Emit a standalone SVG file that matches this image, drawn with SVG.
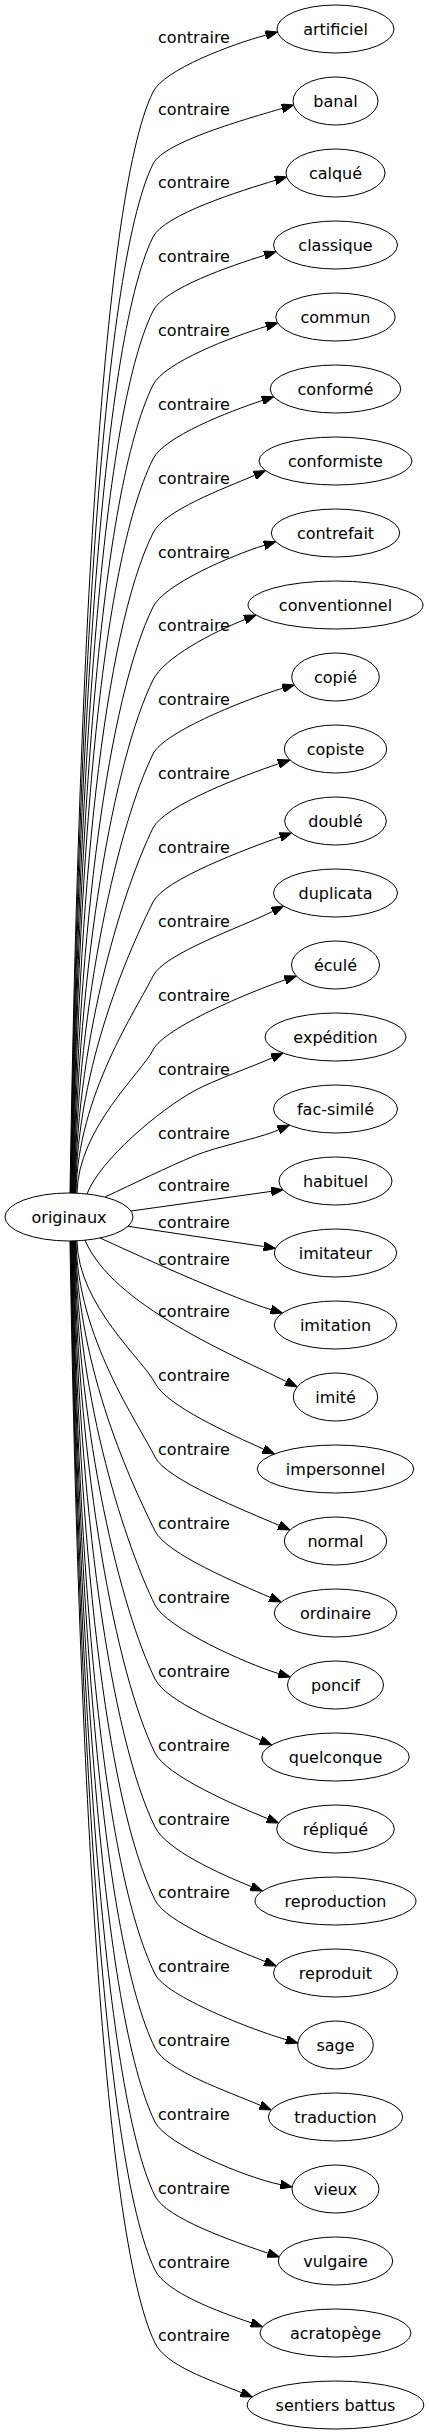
<svg xmlns="http://www.w3.org/2000/svg" width="429" height="2435" viewBox="0 0 429 2435">
<style>
.node ellipse{fill:#fff;stroke:#000;stroke-width:1}
text{font-family:"DejaVu Sans",Verdana,sans-serif;font-size:16px;fill:#000;text-anchor:middle}
.edge path{fill:none;stroke:#000;stroke-width:1;marker-end:url(#arr)}
</style>
<defs>
<marker id="arr" markerUnits="userSpaceOnUse" markerWidth="12" markerHeight="9" viewBox="0 0 12 9" refX="0" refY="4.5" orient="auto"><path d="M0,0 L12,4.5 L0,9 Z" fill="#000" stroke="#000" stroke-width="1"/></marker>
</defs>
<rect width="429" height="2435" fill="#fff"/>
<g id="connectors">
<g class="edge"><path d="M70,1193 C78,697.6 100,200 153,92 C164,69.5 232.1,44.2 265.9,35.1"/><text x="194" y="43">contraire</text></g>
<g class="edge"><path d="M70.5,1193 C78,730 100,272 153,164 C164,141.5 248.6,118.5 282.1,108.4"/><text x="194" y="115">contraire</text></g>
<g class="edge"><path d="M71,1193 C77.9,762.8 100,345 153,237 C164,214.5 241.7,190.5 275.2,180.4"/><text x="194" y="188">contraire</text></g>
<g class="edge"><path d="M71.5,1193 C77.9,796.1 100,419 153,311 C164,288.5 231.1,265.7 264.5,255.3"/><text x="194" y="262">contraire</text></g>
<g class="edge"><path d="M72,1193 C77.9,829.4 100,493 153,385 C164,362.5 232.7,336.5 266.2,326.4"/><text x="194" y="336">contraire</text></g>
<g class="edge"><path d="M72.5,1193 C77.8,862.7 100,567 153,459 C164,436.5 229.1,411.5 262.3,400.5"/><text x="194" y="410">contraire</text></g>
<g class="edge"><path d="M73,1193 C77.8,896 103,634.8 153,533 C164,510.5 222.3,489.2 254.5,475.4"/><text x="194" y="484">contraire</text></g>
<g class="edge"><path d="M73.5,1193 C77.8,929.3 108.6,697.4 153,607 C164,584.5 230.8,555.7 264.2,545.3"/><text x="194" y="558">contraire</text></g>
<g class="edge"><path d="M74,1193 C77.7,962.1 114.2,759.2 153,680 C164,657.5 212.4,632.5 244.9,619.5"/><text x="194" y="631">contraire</text></g>
<g class="edge"><path d="M74.5,1193 C77.7,995.4 119.8,821.7 153,754 C164,731.5 249.1,698 282.7,688.3"/><text x="194" y="705">contraire</text></g>
<g class="edge"><path d="M75,1193 C77.7,1028.7 125.4,884.3 153,828 C164,805.5 245.4,774.8 278.6,763.8"/><text x="194" y="779">contraire</text></g>
<g class="edge"><path d="M75.5,1193 C77.6,1062 131,946.9 153,902 C164,879.5 247.2,848.6 280.2,837"/><text x="194" y="853">contraire</text></g>
<g class="edge"><path d="M76,1193 C77.6,1095.3 136.6,1009.5 153,976 C164,953.5 241.4,927.1 272.7,911.4"/><text x="194" y="927">contraire</text></g>
<g class="edge"><path d="M77,1193 C78,1128.6 142.2,1072 153,1050 C164,1027.5 251.9,991.2 285,979.9"/><text x="194" y="1001">contraire</text></g>
<g class="edge"><path d="M87,1194 C100,1160 159,1110.3 194,1091 C213.3,1080.4 253.8,1066.1 272.1,1057.9"/><text x="194" y="1075">contraire</text></g>
<g class="edge"><path d="M105,1197 C135,1183 166.3,1167.6 194,1156 C217,1146.3 260.2,1138.1 278.4,1129.9"/><text x="194" y="1139">contraire</text></g>
<g class="edge"><path d="M131,1211 C177.7,1204.5 224.5,1197.9 271.2,1191.4"/><text x="194" y="1191">contraire</text></g>
<g class="edge"><path d="M128,1226.3 C173.2,1233 218.5,1239.8 263.7,1246.5"/><text x="194" y="1228">contraire</text></g>
<g class="edge"><path d="M100,1238 C157,1264 232.7,1298.1 271,1309.6"/><text x="194" y="1265">contraire</text></g>
<g class="edge"><path d="M85,1240 C112,1305 232.8,1354.8 286.4,1381.6"/><text x="194" y="1317">contraire</text></g>
<g class="edge"><path d="M77,1241 C78,1304.9 144.2,1361.1 155,1383 C166,1405.5 231.6,1434.7 263.5,1449.1"/><text x="194" y="1381">contraire</text></g>
<g class="edge"><path d="M76,1241 C77.6,1338.2 138.6,1423.6 155,1457 C166,1479.5 246.8,1511.5 279,1525.3"/><text x="194" y="1455">contraire</text></g>
<g class="edge"><path d="M75.5,1241 C77.6,1371.5 133.1,1486.3 155,1531 C166,1553.5 237.9,1583.5 270.1,1597.3"/><text x="194" y="1529">contraire</text></g>
<g class="edge"><path d="M75,1241 C77.6,1404.8 127.4,1548.8 155,1605 C166,1627.5 245.2,1663.5 278.7,1673.6"/><text x="194" y="1603">contraire</text></g>
<g class="edge"><path d="M74.5,1241 C77.7,1438.1 121.8,1611.4 155,1679 C166,1701.5 228.4,1726.5 260.6,1740.3"/><text x="194" y="1677">contraire</text></g>
<g class="edge"><path d="M74,1241 C77.7,1471.4 116.3,1674.1 155,1753 C166,1775.5 235,1805.5 267.5,1818.5"/><text x="194" y="1751">contraire</text></g>
<g class="edge"><path d="M73.5,1241 C77.8,1504.7 110.6,1736.6 155,1827 C166,1849.5 218.7,1873.5 251.2,1886.5"/><text x="194" y="1825">contraire</text></g>
<g class="edge"><path d="M73,1241 C77.8,1537.6 105.1,1798.4 155,1900 C166,1922.5 232.6,1948.5 265.1,1961.5"/><text x="194" y="1898">contraire</text></g>
<g class="edge"><path d="M72.5,1241 C77.8,1570.9 102,1866 155,1974 C166,1996.5 252.7,2030 286.3,2039.7"/><text x="194" y="1972">contraire</text></g>
<g class="edge"><path d="M72,1241 C77.9,1604.2 102,1940 155,2048 C166,2070.5 228,2091.5 260.2,2105.3"/><text x="194" y="2046">contraire</text></g>
<g class="edge"><path d="M71.5,1241 C77.9,1637.5 102,2014 155,2122 C166,2144.5 246.1,2177.7 280.4,2184.6"/><text x="194" y="2120">contraire</text></g>
<g class="edge"><path d="M71,1241 C77.9,1670.8 102,2088 155,2196 C166,2218.5 234.6,2241.8 267.7,2253.1"/><text x="194" y="2194">contraire</text></g>
<g class="edge"><path d="M70.5,1241 C78,1704 102,2162 155,2270 C166,2292.5 218.1,2311.5 251.2,2322.8"/><text x="194" y="2268">contraire</text></g>
<g class="edge"><path d="M70,1241 C78,1736.9 102,2235 155,2343 C166,2365.5 208.7,2379.5 241.2,2392.5"/><text x="194" y="2341">contraire</text></g>
</g>
<g id="originaux" class="node"><ellipse cx="69" cy="1217" rx="64" ry="24"/><text x="69" y="1223">originaux</text></g>
<g id="artificiel" class="node"><ellipse cx="335.5" cy="29" rx="58.5" ry="24"/><text x="335.5" y="35">artificiel</text></g>
<g id="banal" class="node"><ellipse cx="335.5" cy="101" rx="42.5" ry="24"/><text x="335.5" y="107">banal</text></g>
<g id="calque" class="node"><ellipse cx="335.5" cy="173" rx="49.5" ry="24"/><text x="335.5" y="179">calqué</text></g>
<g id="classique" class="node"><ellipse cx="335.5" cy="245" rx="62" ry="24"/><text x="335.5" y="251">classique</text></g>
<g id="commun" class="node"><ellipse cx="335.5" cy="317" rx="59.7" ry="24"/><text x="335.5" y="323">commun</text></g>
<g id="conforme" class="node"><ellipse cx="335.5" cy="389" rx="65.3" ry="24"/><text x="335.5" y="395">conformé</text></g>
<g id="conformiste" class="node"><ellipse cx="335.5" cy="461" rx="76.5" ry="24"/><text x="335.5" y="467">conformiste</text></g>
<g id="contrefait" class="node"><ellipse cx="335.5" cy="533" rx="64.2" ry="24"/><text x="335.5" y="539">contrefait</text></g>
<g id="conventionnel" class="node"><ellipse cx="335.5" cy="605" rx="87.5" ry="24"/><text x="335.5" y="611">conventionnel</text></g>
<g id="copie" class="node"><ellipse cx="335.5" cy="677" rx="43.8" ry="24"/><text x="335.5" y="683">copié</text></g>
<g id="copiste" class="node"><ellipse cx="335.5" cy="749" rx="51.2" ry="24"/><text x="335.5" y="755">copiste</text></g>
<g id="double" class="node"><ellipse cx="335.5" cy="821" rx="50.8" ry="24"/><text x="335.5" y="827">doublé</text></g>
<g id="duplicata" class="node"><ellipse cx="335.5" cy="893" rx="62" ry="24"/><text x="335.5" y="899">duplicata</text></g>
<g id="ecule" class="node"><ellipse cx="335.5" cy="965" rx="44" ry="24"/><text x="335.5" y="971">éculé</text></g>
<g id="expedition" class="node"><ellipse cx="335.5" cy="1037" rx="70.5" ry="24"/><text x="335.5" y="1043">expédition</text></g>
<g id="fac-simile" class="node"><ellipse cx="335.5" cy="1109" rx="62" ry="24"/><text x="335.5" y="1115">fac-similé</text></g>
<g id="habituel" class="node"><ellipse cx="335.5" cy="1181" rx="56.5" ry="24"/><text x="335.5" y="1187">habituel</text></g>
<g id="imitateur" class="node"><ellipse cx="335.5" cy="1253" rx="61.2" ry="24"/><text x="335.5" y="1259">imitateur</text></g>
<g id="imitation" class="node"><ellipse cx="335.5" cy="1325" rx="61.2" ry="24"/><text x="335.5" y="1331">imitation</text></g>
<g id="imite" class="node"><ellipse cx="335.5" cy="1397" rx="42.2" ry="24"/><text x="335.5" y="1403">imité</text></g>
<g id="impersonnel" class="node"><ellipse cx="335.5" cy="1469" rx="78.3" ry="24"/><text x="335.5" y="1475">impersonnel</text></g>
<g id="normal" class="node"><ellipse cx="335.5" cy="1541" rx="51.2" ry="24"/><text x="335.5" y="1547">normal</text></g>
<g id="ordinaire" class="node"><ellipse cx="335.5" cy="1613" rx="61.2" ry="24"/><text x="335.5" y="1619">ordinaire</text></g>
<g id="poncif" class="node"><ellipse cx="335.5" cy="1685" rx="48" ry="24"/><text x="335.5" y="1691">poncif</text></g>
<g id="quelconque" class="node"><ellipse cx="335.5" cy="1757" rx="73.8" ry="24"/><text x="335.5" y="1763">quelconque</text></g>
<g id="replique" class="node"><ellipse cx="335.5" cy="1829" rx="58.8" ry="24"/><text x="335.5" y="1835">répliqué</text></g>
<g id="reproduction" class="node"><ellipse cx="335.5" cy="1901" rx="80.5" ry="24"/><text x="335.5" y="1907">reproduction</text></g>
<g id="reproduit" class="node"><ellipse cx="335.5" cy="1973" rx="62" ry="24"/><text x="335.5" y="1979">reproduit</text></g>
<g id="sage" class="node"><ellipse cx="335.5" cy="2045" rx="37.8" ry="24"/><text x="335.5" y="2051">sage</text></g>
<g id="traduction" class="node"><ellipse cx="335.5" cy="2117" rx="67.2" ry="24"/><text x="335.5" y="2123">traduction</text></g>
<g id="vieux" class="node"><ellipse cx="335.5" cy="2189" rx="43.5" ry="24"/><text x="335.5" y="2195">vieux</text></g>
<g id="vulgaire" class="node"><ellipse cx="335.5" cy="2261" rx="57.2" ry="24"/><text x="335.5" y="2267">vulgaire</text></g>
<g id="acratopege" class="node"><ellipse cx="335.5" cy="2333" rx="75.5" ry="24"/><text x="335.5" y="2339">acratopège</text></g>
<g id="sentiers-battus" class="node"><ellipse cx="335.5" cy="2405" rx="88.3" ry="24"/><text x="335.5" y="2411">sentiers battus</text></g>
</svg>
